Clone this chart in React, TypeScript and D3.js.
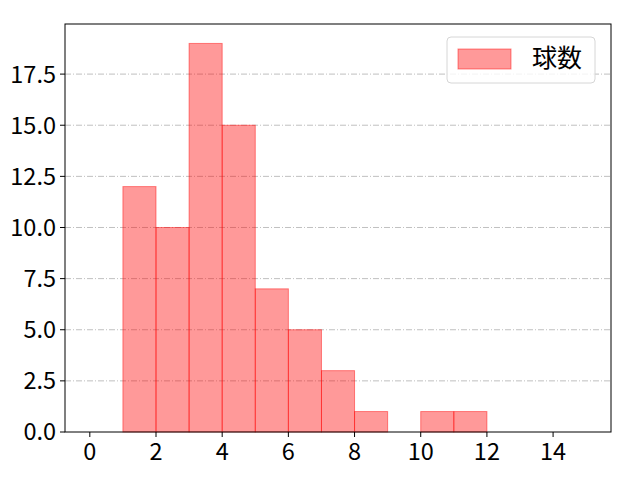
import React, { useEffect, useRef } from 'react';
import * as d3 from 'd3';

// histogram bins (left edge), counts per bin of width 1
const binEdges = [0, 1, 2, 3, 4, 5, 6, 7, 8, 9, 10, 11, 12, 13, 14, 15];
const counts = [0, 12, 10, 19, 15, 7, 5, 3, 1, 0, 1, 1, 0, 0, 0];
const xTicks = [0, 2, 4, 6, 8, 10, 12, 14];
const yTicks = [0, 2.5, 5, 7.5, 10, 12.5, 15, 17.5];
const seriesName = '球数';

const App: React.FC = () => {
  const svgRef = useRef<SVGSVGElement>(null);

  useEffect(() => {
    if (!svgRef.current) return;
    const svg = d3.select(svgRef.current);
    svg.selectAll('*').remove();

    const margin = { top: 24, right: 29, bottom: 48, left: 65 };
    const width = 640 - margin.left - margin.right;
    const height = 480 - margin.top - margin.bottom;
    const font = '"Noto Sans CJK JP", "DejaVu Sans", sans-serif';

    const x = d3.scaleLinear().domain([-0.75, 15.75]).range([0, width]);
    const y = d3.scaleLinear().domain([0, 19.95]).range([height, 0]);

    const g = svg.append('g').attr('transform', `translate(${margin.left},${margin.top})`);

    // grid lines (dash-dot)
    g.selectAll('.grid')
      .data(yTicks.filter(t => t > 0))
      .enter()
      .append('line')
      .attr('x1', 0)
      .attr('x2', width)
      .attr('y1', d => y(d))
      .attr('y2', d => y(d))
      .attr('stroke', '#b0b0b0')
      .attr('stroke-width', 0.8)
      .attr('stroke-dasharray', '6,2,1,2');

    // bars
    const bins = counts.map((c, i) => ({ x0: binEdges[i], x1: binEdges[i + 1], c }));
    g.selectAll('.bar')
      .data(bins)
      .enter()
      .append('rect')
      .attr('x', d => x(d.x0))
      .attr('y', d => y(d.c))
      .attr('width', d => x(d.x1) - x(d.x0))
      .attr('height', d => y(0) - y(d.c))
      .attr('fill', 'rgba(255,0,0,0.4)')
      .attr('stroke', 'rgba(255,0,0,0.45)')
      .attr('stroke-width', 1);

    // frame
    g.append('rect')
      .attr('width', width)
      .attr('height', height)
      .attr('fill', 'none')
      .attr('stroke', '#000')
      .attr('stroke-width', 1);

    // x ticks
    const xt = g.selectAll('.xt').data(xTicks).enter().append('g')
      .attr('transform', d => `translate(${x(d)},${height})`);
    xt.append('line').attr('y2', 5).attr('stroke', '#000');
    xt.append('text')
      .attr('y', 28)
      .attr('text-anchor', 'middle')
      .attr('font-family', font)
      .attr('font-size', 23.5)
      .text(d => String(d));

    // y ticks
    const yt = g.selectAll('.yt').data(yTicks).enter().append('g')
      .attr('transform', d => `translate(0,${y(d)})`);
    yt.append('line').attr('x2', -5).attr('stroke', '#000');
    yt.append('text')
      .attr('x', -9)
      .attr('dy', '0.36em')
      .attr('text-anchor', 'end')
      .attr('font-family', font)
      .attr('font-size', 23.5)
      .text(d => d.toFixed(1));

    // legend
    const lg = g.append('g').attr('transform', `translate(${width - 164},${13})`);
    lg.append('rect')
      .attr('width', 148)
      .attr('height', 46)
      .attr('rx', 4)
      .attr('fill', 'rgba(255,255,255,0.8)')
      .attr('stroke', '#d6d6d6');
    lg.append('rect')
      .attr('x', 11)
      .attr('y', 12)
      .attr('width', 53)
      .attr('height', 20)
      .attr('fill', 'rgba(255,0,0,0.4)')
      .attr('stroke', 'rgba(255,0,0,0.45)');
    lg.append('text')
      .attr('x', 85)
      .attr('y', 21)
      .attr('dy', '0.36em')
      .attr('font-family', font)
      .attr('font-size', 25)
      .text(seriesName);
  }, []);

  return <svg ref={svgRef} width={640} height={480} style={{ display: 'block', margin: -8 }} />;
};

export default App;
